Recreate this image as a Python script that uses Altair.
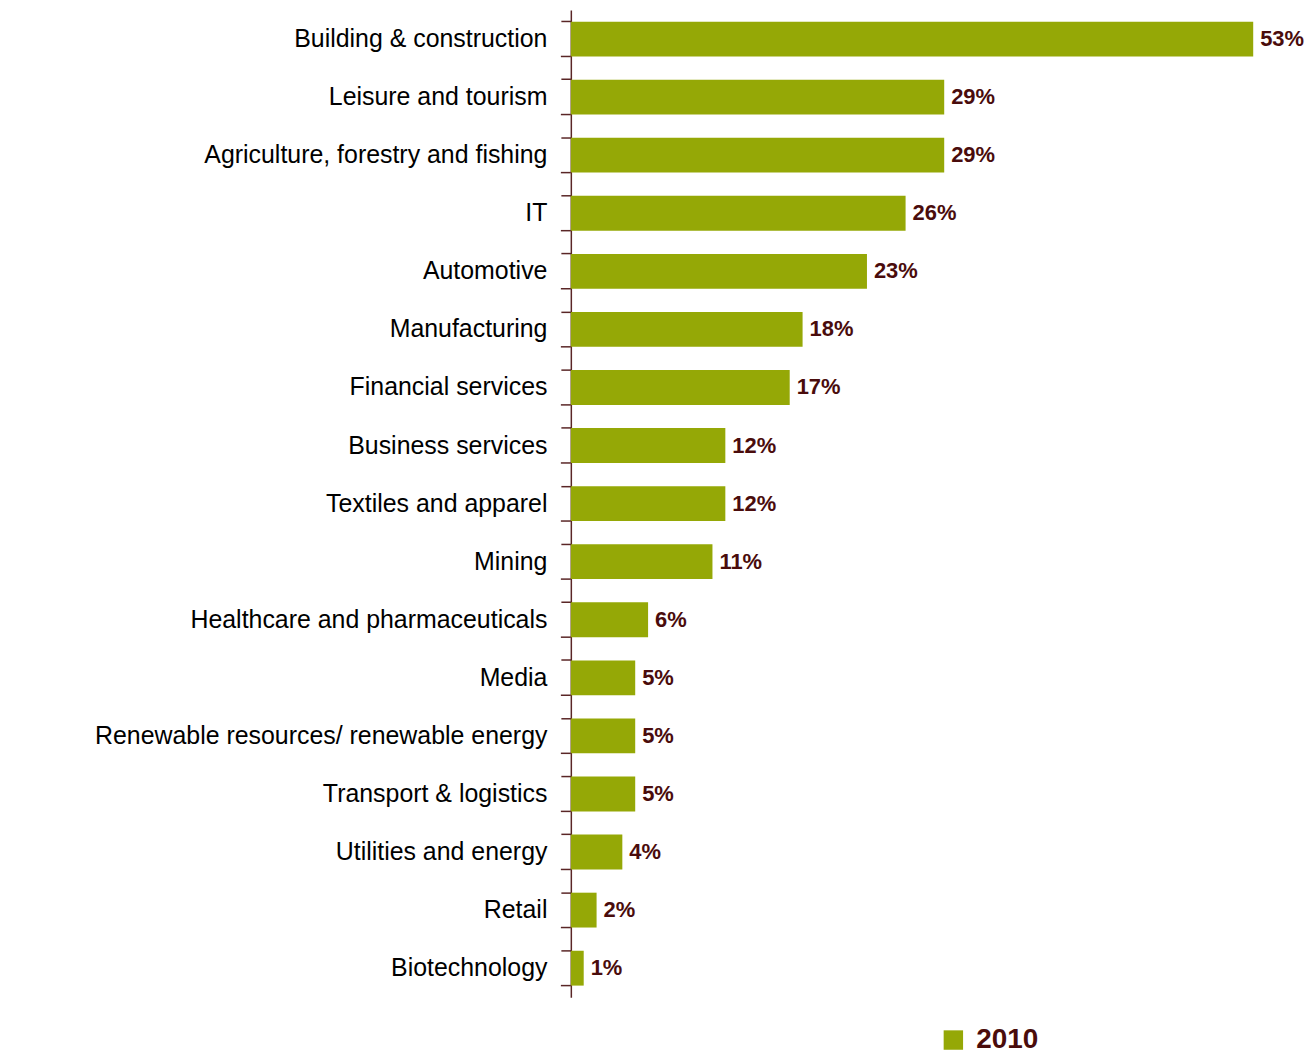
import altair as alt
import pandas as pd

categories = [
    "Building & construction",
    "Leisure and tourism",
    "Agriculture, forestry and fishing",
    "IT",
    "Automotive",
    "Manufacturing",
    "Financial services",
    "Business services",
    "Textiles and apparel",
    "Mining",
    "Healthcare and pharmaceuticals",
    "Media",
    "Renewable resources/ renewable energy",
    "Transport & logistics",
    "Utilities and energy",
    "Retail",
    "Biotechnology",
]
values = [53, 29, 29, 26, 23, 18, 17, 12, 12, 11, 6, 5, 5, 5, 4, 2, 1]
value_labels = ["53%", "29%", "29%", "26%", "23%", "18%", "17%", "12%", "12%",
                "11%", "6%", "5%", "5%", "5%", "4%", "2%", "1%"]
series = ["2010"] * len(categories)

df = pd.DataFrame({"sector": categories, "share": values,
                   "label": value_labels, "year": series})

BAR = "#95A806"
MAROON = "#4A0C0C"
AXIS = "#5A2626"

y_enc = alt.Y(
    "sector:N", sort=categories, title=None,
    scale=alt.Scale(paddingInner=0.4, paddingOuter=0.2),
    axis=alt.Axis(bandPosition=0, domainColor=AXIS, domainWidth=1.5,
                  tickColor=AXIS, tickWidth=1.5, tickSize=10,
                  labelFontSize=25, labelFont="Liberation Sans",
                  labelColor="#000000", labelPadding=14, labelLimit=0,
                  grid=False),
)
x_enc = alt.X("share:Q", scale=alt.Scale(domain=[0, 53], nice=False, zero=True),
              axis=None)

base = alt.Chart(df)

bars = base.mark_bar().encode(
    x=x_enc, y=y_enc,
    color=alt.Color("year:N",
                    scale=alt.Scale(domain=["2010"], range=[BAR]),
                    legend=alt.Legend(title=None, orient="none", legendX=370,
                                      legendY=1020, symbolType="square",
                                      symbolSize=380, symbolStrokeWidth=0,
                                      labelFontSize=28, labelFontWeight="bold",
                                      labelFont="Liberation Sans",
                                      labelColor=MAROON, labelOffset=9)),
)

texts = base.mark_text(align="left", baseline="middle", dx=7, fontSize=22,
                       fontWeight="bold", font="Liberation Sans",
                       color=MAROON).encode(x=x_enc, y=y_enc, text="label:N")

end_ticks = base.mark_rule(color=AXIS, strokeWidth=1.5).encode(
    y=alt.Y("sector:N", sort=categories, bandPosition=1),
    x=alt.value(-10), x2=alt.value(0),
)

chart = alt.layer(bars, texts, end_ticks).properties(
    width=685, height=991,
    autosize="none",
    background="white",
    padding={"left": 565, "top": 0, "right": 54, "bottom": 59},
).configure_view(stroke=None, strokeWidth=0)

chart.save("out.html", embed_options={"renderer": "svg", "actions": False})
